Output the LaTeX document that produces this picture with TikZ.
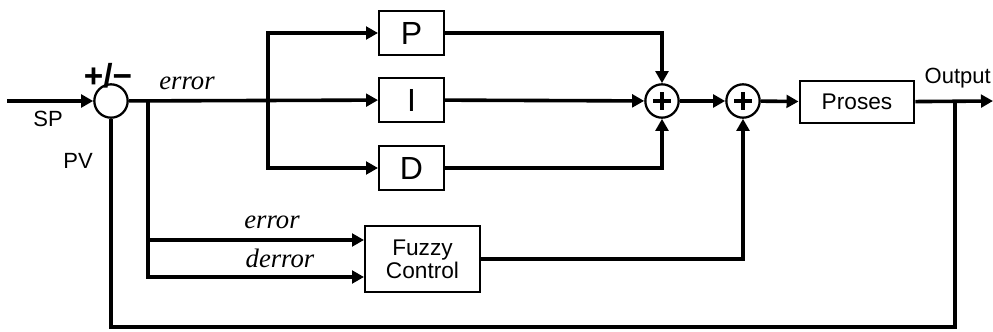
\documentclass[tikz,border=0pt]{standalone}
\usepackage{fontspec}
\setmainfont{Liberation Serif}
\newfontfamily\lblfont{Liberation Sans}
\usepackage{tikz}
\usetikzlibrary{positioning,arrows.meta,calc}

\begin{document}
\begin{tikzpicture}[x=0.75pt,y=-0.75pt,
  blk/.style={draw,line width=1.7pt,inner sep=0pt,font=\lblfont\fontsize{17}{19}\selectfont,align=center},
  pid/.style={blk,minimum width=48.5pt,minimum height=33pt,font=\lblfont\fontsize{24}{26}\selectfont},
  cmpc/.style={draw,circle,line width=1.7pt,minimum size=25pt,inner sep=0pt},
  sumc/.style={cmpc,path picture={
      \draw[line width=2.6pt] ([xshift=-6.5pt]path picture bounding box.center) -- ([xshift=6.5pt]path picture bounding box.center);
      \draw[line width=2.6pt] ([yshift=-6.5pt]path picture bounding box.center) -- ([yshift=6.5pt]path picture bounding box.center);}},
  ln/.style={line width=2.7pt},
  a/.style={ln,-{Triangle[length=9pt,width=9.5pt]}},
  lbl/.style={font=\lblfont\fontsize{16.5}{18}\selectfont,inner sep=0pt},
  sig/.style={font=\itshape\fontsize{20}{22}\selectfont,inner sep=0pt}]
  \useasboundingbox (0,0) rectangle (993,332);

  % junctions and blocks
  \node[cmpc] (cmp) at (111,101) {};
  \node[pid] (P) at (411.5,33) {P};
  \node[pid] (I) at (411.5,100) {I};
  \node[pid] (D) at (411.5,168) {D};
  \node[sumc] (s1) at (662,101) {};
  \node[sumc] (s2) at (743,101) {};
  \node[blk,minimum width=86pt,minimum height=31pt] (plant) at (857,102) {Proses};
  \node[blk,minimum width=86pt,minimum height=49pt] (fz) at (422.5,259) {Fuzzy\\[-2pt]Control};

  \coordinate (spin) at (7,101);
  \coordinate (fzbr) at (148,101);
  \coordinate (pidbr) at (268,101);
  \coordinate (outbr) at (955,101);
  \coordinate (outend) at (993,101);
  \coordinate (fbl) at (111,327);

  % labels
  \node[lbl] (splbl) at (48,119) {SP};
  \node[lbl] (pvlbl) at (78,161) {PV};
  \node[lbl,font=\lblfont\bfseries\fontsize{25}{27}\selectfont] (sgn) at (108,76) {+/\textminus};
  \node[lbl,anchor=east] (outlbl) at (991,78) {Output};
  \node[sig] (e1) at (187,83) {error};
  \node[sig] (e2) at (272,222) {error};
  \node[sig] (e3) at (280,258) {derror};

  % signal lines
  \draw[a] (spin) -- (cmp);
  \draw[a] (cmp) -- (I);
  \draw[a] (pidbr) |- (P);
  \draw[a] (pidbr) |- (D);
  \draw[a] (fzbr) |- ($(fz.west)+(0,-19)$);
  \draw[a] (fzbr) |- ($(fz.west)+(0,18)$);
  \draw[a] (P) -| (s1);
  \draw[a] (D) -| (s1);
  \draw[a] (I) -- (s1);
  \draw[a] (s1) -- (s2);
  \draw[a] (fz) -| (s2);
  \draw[a] (s2) -- (plant);
  \draw[a] (plant) -- (outend);
  \draw[ln] (outbr) |- (fbl) -- (cmp);
\end{tikzpicture}
\end{document}
